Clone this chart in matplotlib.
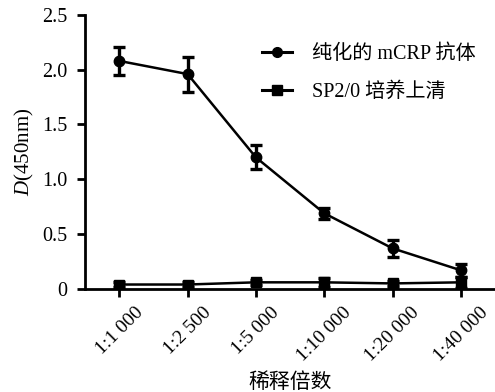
import matplotlib
matplotlib.use("Agg")
import matplotlib.pyplot as plt
from matplotlib.lines import Line2D
import numpy as np

categories = ["1:1 000", "1:2 500", "1:5 000", "1:10 000", "1:20 000", "1:40 000"]
antibody = [2.08, 1.96, 1.20, 0.69, 0.37, 0.17]
antibody_err = [0.13, 0.16, 0.11, 0.05, 0.08, 0.06]
sp20 = [0.04, 0.04, 0.06, 0.06, 0.05, 0.06]
sp20_err = [0.02, 0.02, 0.02, 0.04, 0.02, 0.05]
yticks = [0, 0.5, 1.0, 1.5, 2.0, 2.5]
ytick_labels = ["0", "0.5", "1.0", "1.5", "2.0", "2.5"]
labels = ['纯化的 mCRP 抗体', 'SP2/0 培养上清']

plt.rcParams['font.family'] = ['Liberation Serif', 'Noto Sans CJK SC']
plt.rcParams['mathtext.fontset'] = 'custom'
plt.rcParams['mathtext.rm'] = 'Liberation Serif'
plt.rcParams['mathtext.it'] = 'Liberation Serif:italic'

fig = plt.figure(figsize=(4.95, 3.92), dpi=100)
ax = fig.add_axes([0.172, 0.263, 0.828, 0.699])
x = np.arange(len(categories))

ax.errorbar(x, antibody, yerr=antibody_err, color='black', marker='o', markersize=7.5,
            linewidth=1.8, elinewidth=2.4, capsize=4.5, capthick=2.4, zorder=3)
ax.errorbar(x, sp20, yerr=sp20_err, color='black', marker='s', markersize=7,
            linewidth=1.8, elinewidth=2.4, capsize=4.5, capthick=2.4, zorder=3)

ax.set_xlim(-0.5, 5.5)
ax.set_ylim(0, 2.5)
ax.set_yticks(yticks)
ax.set_yticklabels(ytick_labels, fontsize=14.5)
ax.set_xticks(x)
ax.set_xticklabels(categories, rotation=45, ha='center', fontsize=14)
ax.spines['top'].set_visible(False)
ax.spines['right'].set_visible(False)
for s in ['left', 'bottom']:
    ax.spines[s].set_linewidth(2)
ax.tick_params(width=2, length=6)
ax.tick_params(axis='x', pad=5)
ax.tick_params(axis='y', pad=7)
ax.set_ylabel(r'$D$(450nm)', fontsize=15, labelpad=4)
ax.set_xlabel('稀释倍数', fontsize=15, labelpad=6)

handles = [Line2D([], [], color='black', marker='o', markersize=7, linewidth=2.2),
           Line2D([], [], color='black', marker='s', markersize=7, linewidth=2.2)]
leg = ax.legend(handles, labels, loc='upper left', bbox_to_anchor=(0.412, 0.92), frameon=False,
                fontsize=14.5, handlelength=1.5, handletextpad=1.0, labelspacing=0.9,
                borderaxespad=0)

fig.savefig('out.png', dpi=100)
